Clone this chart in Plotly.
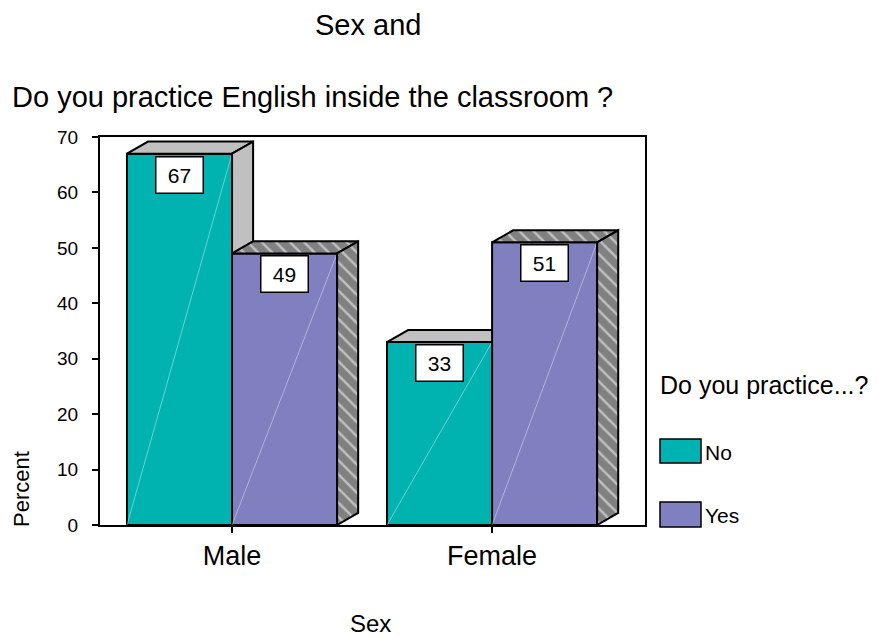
import plotly.graph_objects as go

# ---- data ----
categories = ["Male", "Female"]
series_names = ["No", "Yes"]
no_values = [67, 33]
yes_values = [49, 51]
y_tick_values = [0, 10, 20, 30, 40, 50, 60, 70]

title_line1 = "Sex and"
title_line2 = "Do you practice English inside the classroom ?"
x_title = "Sex"
y_title = "Percent"
legend_title = "Do you practice...?"

# ---- style ----
FONT = "Liberation Sans, Arial, sans-serif"
TEAL = "#00B3B1"
PURPLE = "#8080C0"
LIGHT_GREY = "#C0C0C0"
DARK_GREY = "#808080"

OFF = 8                      # page body margin
W, H = 892 - OFF, 638 - OFF
L, R, T, B = 100 - OFF, 645 - OFF, 137 - OFF, 525 - OFF  # plot area (figure px)

def px_x(p):  # p = screenshot pixel
    return (p - OFF - L) / (R - L)

def px_y(p):
    return (B - (p - OFF)) / (B - T)

BAR_W = 0.404          # bar width in category units
DX = 0.081             # 3D depth, x units
DY = 2.17              # 3D depth, y units

series_values = [no_values, yes_values]
series_colors = [TEAL, PURPLE]

fig = go.Figure()

label_annots = []
for ci, cat in enumerate(categories):
    for si, vals in enumerate(series_values):
        v = vals[ci]
        left = ci - BAR_W + si * BAR_W
        right = left + BAR_W
        # front face
        fig.add_trace(go.Scatter(
            x=[left, left, right, right, left], y=[0, v, v, 0, 0],
            mode="lines", fill="toself", fillcolor=series_colors[si],
            line=dict(color="black", width=2), hoverinfo="skip", showlegend=False))
        # faint diagonal highlight
        fig.add_trace(go.Scatter(
            x=[left, right], y=[0, v], mode="lines",
            line=dict(color="rgba(255,255,255,0.4)", width=1),
            hoverinfo="skip", showlegend=False))
        # top and side faces
        top_x = [left, left + DX, right + DX, right, left]
        top_y = [v, v + DY, v + DY, v, v]
        side_x = [right, right, right + DX, right + DX, right]
        side_y = [0, v, v + DY, DY, 0]
        for fx, fy in [(top_x, top_y), (side_x, side_y)]:
            if si == 0:
                fig.add_trace(go.Scatter(
                    x=fx, y=fy, mode="lines", fill="toself", fillcolor=LIGHT_GREY,
                    line=dict(color="black", width=2), hoverinfo="skip", showlegend=False))
            else:
                fig.add_trace(go.Scatter(
                    x=fx, y=fy, mode="lines", fill="toself", fillcolor=DARK_GREY,
                    fillpattern=dict(shape="\\", bgcolor=DARK_GREY, fgcolor="white",
                                     size=10, solidity=0.25),
                    line=dict(color="black", width=2), hoverinfo="skip", showlegend=False))
        label_annots.append(dict(
            x=(left + right) / 2, y=v, xref="x", yref="y",
            text=str(v), showarrow=False, yanchor="top", xanchor="center",
            yshift=-2, width=46, height=35, bgcolor="white",
            bordercolor="black", borderwidth=1.5, borderpad=0,
            font=dict(size=21, color="black", family=FONT)))

annots = list(label_annots)
annots += [
    dict(x=px_x(368), y=px_y(25), text=title_line1, font=dict(size=29)),
    dict(x=px_x(10), y=px_y(97), text=title_line2, xanchor="left", font=dict(size=29)),
    dict(x=px_x(370), y=px_y(623), text=x_title, font=dict(size=24)),
    dict(x=px_x(21), y=px_y(489), text=y_title, textangle=-90, font=dict(size=22)),
    dict(x=px_x(658), y=px_y(385), text=legend_title, xanchor="left", font=dict(size=25)),
    dict(x=px_x(703), y=px_y(452), text=series_names[0], xanchor="left", font=dict(size=21)),
    dict(x=px_x(703), y=px_y(515), text=series_names[1], xanchor="left", font=dict(size=21)),
]
for a in annots[len(label_annots):]:
    a.update(xref="paper", yref="paper", showarrow=False)
    a.setdefault("xanchor", "center")
    a["yanchor"] = "middle"
    a["font"].update(family=FONT, color="black")

shapes = []
for (y0, y1), col in zip([(439, 463), (502, 527)], series_colors):
    shapes.append(dict(type="rect", xref="paper", yref="paper",
                       x0=px_x(660), x1=px_x(701), y0=px_y(y1), y1=px_y(y0),
                       fillcolor=col, line=dict(color="black", width=1.5)))

fig.update_layout(
    width=W, height=H,
    margin=dict(l=L, r=W - R, t=T, b=H - B, pad=0),
    paper_bgcolor="white", plot_bgcolor="white",
    font=dict(family=FONT, color="black"),
    showlegend=False,
    annotations=annots,
    shapes=shapes,
    xaxis=dict(
        range=[-0.5077, 1.588], tickvals=list(range(len(categories))), ticktext=categories,
        showgrid=False, zeroline=False, showline=True, linecolor="black", linewidth=2,
        mirror=True, ticks="outside", ticklen=6, tickwidth=2, tickcolor="black",
        tickfont=dict(size=27, family=FONT), ticklabelstandoff=0),
    yaxis=dict(
        range=[0, 70], tickvals=y_tick_values,
        showgrid=False, zeroline=False, showline=True, linecolor="black", linewidth=2,
        mirror=True, ticks="outside", ticklen=6, tickwidth=2, tickcolor="black",
        tickfont=dict(size=19, family=FONT), ticklabelstandoff=10),
)

fig.write_html("out.html")
